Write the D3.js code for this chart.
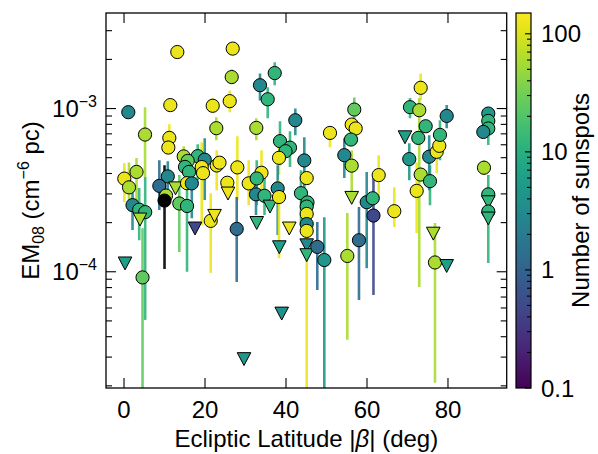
<!DOCTYPE html>
<html><head><meta charset="utf-8">
<script src="https://cdn.jsdelivr.net/npm/d3@7"></script>
<style>body{margin:0;background:#fff} text{font-family:"Liberation Sans",Arial,Helvetica,sans-serif;fill:#000}</style>
</head><body><svg id="c" width="598" height="454"></svg>
<script>
// ---- data ----
const beta = [1.06,0.07,1.23,3.09,5.19,2.10,3.75,5.23,3.95,0.25,4.57,
13.16,26.84,26.59,26.10,11.43,21.90,22.79,11.19,10.94,
14.74,18.20,19.93,15.73,15.06,19.19,16.05,19.51,22.89,23.58,
27.98,10.81,8.72,12.72,15.56,16.74,25.51,25.68,10.37,10.0,
13.65,15.56,17.53,21.41,22.35,27.83,29.63,30.79,
37.21,33.58,35.48,42.30,32.67,33.95,32.77,32.59,34.69,36.05,32.77,
38.52,40.99,39.88,38.27,37.95,38.27,38.35,40.81,38.94,44.52,45.11,
43.70,45.31,45.11,45.11,45.11,45.11,45.11,45.11,47.73,49.46,50.86,
56.86,56.22,57.21,56.05,54.40,56.22,56.22,55.14,58.02,59.93,61.41,61.60,62.89,
66.74,70.44,69.38,70.62,73.26,72.91,74.49,72.67,73.26,72.27,75.56,75.36,77.21,77.85,78.02,79.68,76.37,76.79,79.68,
89.95,89.95,89.95,88.72,88.89,89.95,89.95,89.95,89.95];
const em = [9.5e-4,3.72e-4,3.29e-4,4.09e-4,6.93e-4,2.56e-4,2.40e-4,2.32e-4,2.10e-4,1.13e-4,9.23e-5,
2.22e-3,2.33e-3,1.56e-3,1.11e-3,1.05e-3,1.04e-3,7.58e-4,6.61e-4,5.77e-4,
5.09e-4,5.11e-4,4.86e-4,4.78e-4,4.39e-4,4.38e-4,4.09e-4,4.02e-4,4.48e-4,4.66e-4,
4.36e-4,3.84e-4,3.36e-4,3.26e-4,3.49e-4,3.48e-4,3.51e-4,3.03e-4,2.93e-4,2.73e-4,
2.62e-4,2.53e-4,1.85e-4,2.05e-4,2.21e-4,1.83e-4,2.93e-5,3.48e-4,
1.65e-3,1.39e-3,1.14e-3,8.48e-4,7.61e-4,4.04e-4,3.73e-4,2.98e-4,2.92e-4,2.52e-4,2.00e-4,
6.31e-4,5.76e-4,5.48e-4,4.99e-4,3.24e-4,2.87e-4,1.42e-4,1.85e-4,5.57e-5,4.81e-4,3.75e-4,
3.03e-4,2.66e-4,2.51e-4,2.26e-4,1.96e-4,1.78e-4,1.46e-4,1.27e-4,1.42e-4,1.18e-4,7.09e-4,
9.86e-4,7.98e-4,7.55e-4,6.46e-4,5.18e-4,4.47e-4,2.85e-4,1.25e-4,1.56e-4,2.67e-4,2.82e-4,2.21e-4,3.91e-4,
2.35e-4,4.90e-4,6.70e-4,1.02e-3,1.34e-3,9.77e-4,7.79e-4,6.61e-4,3.94e-4,3.13e-4,3.59e-4,5.07e-4,5.43e-4,5.91e-4,6.90e-4,9.01e-4,1.72e-4,1.14e-4,1.09e-4,
9.32e-4,8.40e-4,7.55e-4,7.19e-4,4.34e-4,2.98e-4,2.68e-4,2.34e-4,2.13e-4];
const emLo = [8.7e-4,2.67e-4,2.56e-4,2.23e-4,3.75e-4,1.80e-4,1.56e-4,5.07e-5,null,null,1e-5,
null,null,1.41e-3,9.49e-4,null,9.36e-4,6.40e-4,5.80e-4,null,
3.91e-4,3.64e-4,2.75e-4,null,null,1.93e-4,null,null,3.16e-4,null,
2.75e-4,2.75e-4,2.39e-4,null,null,2.13e-4,null,null,null,1.04e-4,
1.32e-4,1.0e-4,null,9.84e-5,null,8.66e-5,null,2.56e-4,
1.39e-3,1.12e-3,8.73e-4,6.87e-4,6.40e-4,2.75e-4,2.56e-4,2.23e-4,2.23e-4,null,null,
4.50e-4,4.38e-4,null,3.91e-4,1.68e-4,1.21e-4,null,null,null,3.16e-4,null,
1.93e-4,null,null,null,null,1e-5,null,null,7.74e-5,1e-5,5.80e-4,
7.91e-4,null,null,null,3.75e-4,2.75e-4,null,3.83e-5,6.72e-5,1.05e-4,null,7.21e-5,2.75e-4,
1.88e-4,3.64e-4,null,8.73e-4,1.12e-3,8.07e-5,null,null,null,1.73e-4,2.56e-4,3.16e-4,4.02e-4,null,4.83e-4,7.58e-4,null,2.09e-5,null,
null,null,5.97e-4,null,3.91e-4,1.13e-4,null,null,null];
const emHi = [1.03e-3,4.63e-4,4.67e-4,4.97e-4,1.02e-3,3.16e-4,3.26e-4,3.80e-4,null,null,1.85e-4,
null,null,1.74e-3,1.29e-3,null,1.16e-3,8.85e-4,8.02e-4,null,
5.88e-4,6.05e-4,6.58e-4,null,null,6.22e-4,null,null,5.56e-4,null,
6.77e-4,4.76e-4,4.83e-4,null,null,4.50e-4,null,null,null,4.50e-4,
3.91e-4,4.02e-4,null,3.03e-4,null,2.87e-4,null,4.83e-4,
1.92e-3,1.64e-3,1.35e-3,1.0e-3,8.73e-4,5.56e-4,4.83e-4,3.75e-4,3.75e-4,null,null,
8.36e-4,7.26e-4,null,5.97e-4,4.50e-4,3.64e-4,null,null,null,6.67e-4,null,
4.19e-4,null,null,null,null,2.75e-4,null,null,2.02e-4,2.16e-4,7.69e-4,
1.17e-3,null,null,null,6.58e-4,5.56e-4,null,2.29e-4,2.49e-4,4.08e-4,null,3.91e-4,5.18e-4,
3.30e-4,6.14e-4,null,1.16e-3,1.64e-3,1.16e-3,null,null,null,4.67e-4,4.50e-4,6.87e-4,6.40e-4,null,8.48e-4,1.05e-3,null,1.99e-4,null,
null,null,8.0e-4,null,4.83e-4,3.91e-4,null,null,null];
const sunspots = [3,120,60,60,60,3,12,12,60,6,25,
120,120,60,120,120,120,60,120,120,
60,12,3,25,12,120,12,120,120,120,
120,3,1.3,60,120,3,120,120,60,0,
25,12,0.5,120,120,1.3,5,120,
12,3,12,3,60,120,12,3,12,12,12,
12,12,12,120,3,120,6,120,4,3,120,
12,12,12,120,3,120,3,12,1.3,5,120,
25,120,120,12,3,60,60,60,1.3,3,12,0.5,120,
120,5,6,12,120,60,12,12,60,120,12,3,120,120,12,3,60,60,6,
5,12,12,3,60,12,12,12,12];
const upperLimit = [0,0,0,0,0,0,0,0,1,1,0,
0,0,0,0,0,0,0,0,0,
0,0,0,0,0,0,0,0,0,0,
0,0,0,1,0,0,0,1,0,0,
0,0,1,0,1,0,1,0,
0,0,0,0,0,0,0,0,0,1,1,
0,0,0,0,0,0,1,1,1,0,0,
0,0,0,0,0,0,1,1,0,0,0,
0,0,0,0,0,0,1,0,0,0,0,0,0,
0,0,1,0,0,0,0,0,0,0,0,0,0,0,0,0,1,0,1,
0,0,0,0,0,0,1,0,1];
const xTicks = [0,20,40,60,80];
const yTicks = [1e-4,1e-3];
const yTickLabels = [["10","−4"],["10","−3"]];
const cTicks = [0.1,1,10,100];
const cTickLabels = ["0.1","1","10","100"];

// ---- layout ----
const L=106, R=506.7, T=13, B=388;
const FS=24, FSS=16;
const svg = d3.select("#c");
const x = d3.scaleLinear().domain([-4.45,94.5]).range([L,R]);
const y = d3.scaleLog().domain([1.94e-5,3.85e-3]).range([B,T]);
const cs = d3.scaleLog().domain([0.1,150]).range([0,1]).clamp(true);
const col = s => s>0 ? d3.interpolateViridis(cs(s)) : "#000000";

svg.append("defs").append("clipPath").attr("id","pc").append("rect")
  .attr("x",L).attr("y",T).attr("width",R-L).attr("height",B-T);

const data = beta.map((b,i)=>({b, v:em[i], lo:emLo[i], hi:emHi[i], s:sunspots[i], ul:upperLimit[i]}));

const g = svg.append("g").attr("clip-path","url(#pc)");
g.selectAll("line.err").data(data.filter(d=>d.lo!=null)).join("line")
  .attr("x1",d=>x(d.b)).attr("x2",d=>x(d.b))
  .attr("y1",d=>y(d.lo)).attr("y2",d=>y(d.hi))
  .attr("stroke",d=>col(d.s)).attr("stroke-width",2.6).attr("stroke-opacity",0.9);

data.forEach(d=>{
  const cx=x(d.b), cy=y(d.v);
  if(d.ul){
    const s=6.8;
    g.append("path").attr("d",`M${cx-s},${cy-s*0.9}L${cx+s},${cy-s*0.9}L${cx},${cy+s}Z`)
      .attr("fill",col(d.s)).attr("stroke","#000").attr("stroke-width",1);
  } else {
    g.append("circle").attr("cx",cx).attr("cy",cy).attr("r",6.6)
      .attr("fill",col(d.s)).attr("stroke","#000").attr("stroke-width",1);
  }
});

// frame
svg.append("rect").attr("x",L).attr("y",T).attr("width",R-L).attr("height",B-T)
  .attr("fill","none").attr("stroke","#000").attr("stroke-width",1.3);

const ax = svg.append("g").attr("stroke","#000").attr("stroke-width",1.1);
xTicks.forEach(t=>{
  ax.append("line").attr("x1",x(t)).attr("x2",x(t)).attr("y1",B).attr("y2",B-10);
  ax.append("line").attr("x1",x(t)).attr("x2",x(t)).attr("y1",T).attr("y2",T+10);
  svg.append("text").attr("x",x(t)).attr("y",B+30).attr("text-anchor","middle")
    .attr("font-size",FS).text(t);
});
y.ticks().forEach(t=>{
  const major = yTicks.some(m=>Math.abs(m-t)/m<1e-6);
  const len = major?10:6;
  ax.append("line").attr("x1",L).attr("x2",L+len).attr("y1",y(t)).attr("y2",y(t));
  ax.append("line").attr("x1",R).attr("x2",R-len).attr("y1",y(t)).attr("y2",y(t));
});
yTicks.forEach((t,i)=>{
  const tx = svg.append("text").attr("x",97).attr("y",y(t)+8.5).attr("text-anchor","end").attr("font-size",FS);
  tx.append("tspan").text(yTickLabels[i][0]);
  tx.append("tspan").attr("dy",-10).attr("font-size",FSS).text(yTickLabels[i][1]);
});

// axis labels
svg.append("text").attr("x",(L+R)/2).attr("y",447).attr("text-anchor","middle").attr("font-size",FS)
  .html('Ecliptic Latitude |<tspan font-style="italic">β</tspan>| (deg)');
const yl = svg.append("text").attr("transform",`translate(39,${(T+B)/2}) rotate(-90)`)
  .attr("text-anchor","middle").attr("font-size",FS);
yl.append("tspan").text("EM");
yl.append("tspan").attr("dy",5).attr("font-size",FSS).text("08");
yl.append("tspan").attr("dy",-5).text(" (cm");
yl.append("tspan").attr("dy",-10).attr("font-size",FSS).text("−6");
yl.append("tspan").attr("dy",10).text(" pc)");

// colorbar
const CL=516, CR=531;
const cy = d3.scaleLog().domain([0.1,150]).range([B,T]);
const grad = svg.select("defs").append("linearGradient").attr("id","vg")
  .attr("x1",0).attr("y1",1).attr("x2",0).attr("y2",0);
d3.range(0,1.0001,0.05).forEach(t=>grad.append("stop").attr("offset",t).attr("stop-color",d3.interpolateViridis(t)));
svg.append("rect").attr("x",CL).attr("y",T).attr("width",CR-CL).attr("height",B-T)
  .attr("fill","url(#vg)").attr("stroke","#000").attr("stroke-width",1.2);
const cax = svg.append("g").attr("stroke","#000").attr("stroke-width",1.1);
cy.ticks().forEach(t=>{
  const major = cTicks.some(m=>Math.abs(m-t)/m<1e-6);
  cax.append("line").attr("x1",CR).attr("x2",CR-(major?6:4)).attr("y1",cy(t)).attr("y2",cy(t));
});
cTicks.forEach((t,i)=>{
  svg.append("text").attr("x",541).attr("y",cy(t)+8.5).attr("font-size",FS).text(cTickLabels[i]);
});
svg.append("text").attr("transform",`translate(589,${(T+B)/2}) rotate(-90)`)
  .attr("text-anchor","middle").attr("font-size",FS).text("Number of sunspots");
</script></body></html>
